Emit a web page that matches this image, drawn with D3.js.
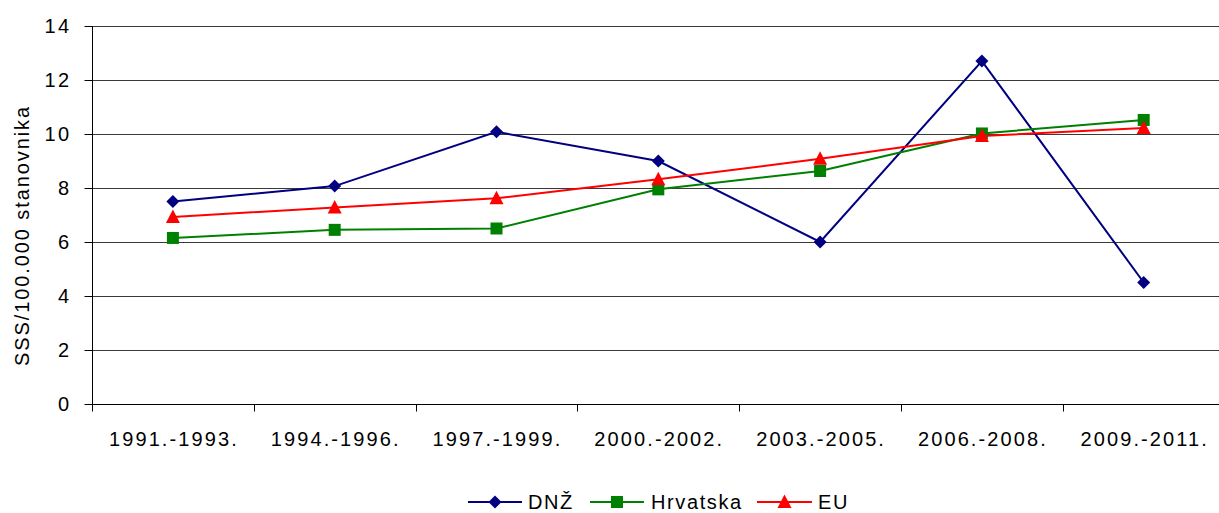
<!DOCTYPE html>
<html>
<head>
<meta charset="utf-8" />
<script src="https://cdnjs.cloudflare.com/ajax/libs/d3/7.8.5/d3.min.js"></script>
<style>
  body { margin: 0; background: #fff; }
  text { font-family: "Liberation Sans", Arial, sans-serif; fill: #000; }
</style>
</head>
<body>
<script>
var categories = ["1991.-1993.", "1994.-1996.", "1997.-1999.", "2000.-2002.", "2003.-2005.", "2006.-2008.", "2009.-2011."];
var dnz = [7.5, 8.07, 10.08, 9.0, 6.0, 12.7, 4.5];
var hrvatska = [6.15, 6.45, 6.5, 7.95, 8.63, 10.02, 10.52];
var eu = [6.93, 7.28, 7.62, 8.32, 9.08, 9.93, 10.22];
var yTicks = [0, 2, 4, 6, 8, 10, 12, 14];

var series = [
  {name: "DNŽ", values: dnz, color: "#000080", marker: "diamond"},
  {name: "Hrvatska", values: hrvatska, color: "#008000", marker: "square"},
  {name: "EU", values: eu, color: "#ff0000", marker: "triangle"}
];

var svgWidth = 1219, svgHeight = 513;
var margin = {left: 92, top: 26};
var plotBottom = 404;
var bandW = 161.8;
var fontSize = "20px";

var svg = d3.select("body").append("svg")
    .attr("width", svgWidth)
    .attr("height", svgHeight);

var x = d3.scaleBand()
    .domain(categories)
    .range([margin.left, margin.left + bandW * categories.length]);

var y = d3.scaleLinear()
    .domain([0, 14])
    .range([plotBottom, margin.top]);

// grid lines
svg.append("g")
    .selectAll("line")
    .data(yTicks.filter(function(d) { return d > 0; }))
    .enter().append("line")
    .attr("x1", margin.left)
    .attr("x2", svgWidth)
    .attr("y1", function(d) { return Math.round(y(d)) + 0.5; })
    .attr("y2", function(d) { return Math.round(y(d)) + 0.5; })
    .attr("stroke", "#3a3a3a")
    .attr("stroke-width", 1);

// y axis
var yAxis = svg.append("g")
    .attr("transform", "translate(" + (margin.left + 0.5) + ",0)")
    .call(d3.axisLeft(y).tickValues(yTicks).tickSize(8).tickPadding(13));
yAxis.select(".domain").remove();
yAxis.append("line")
    .attr("x1", 0).attr("x2", 0)
    .attr("y1", margin.top).attr("y2", plotBottom + 6)
    .attr("stroke", "#000");
yAxis.selectAll(".tick line").attr("stroke", "#000");
yAxis.selectAll("text")
    .style("font-size", fontSize)
    .style("letter-spacing", "2.4px")
    .attr("fill", "#000");

// x axis
var xAxis = svg.append("g")
    .attr("transform", "translate(0," + (Math.round(plotBottom) + 0.5) + ")");
xAxis.append("line")
    .attr("x1", margin.left).attr("x2", svgWidth)
    .attr("stroke", "#000");
xAxis.selectAll(".xtick")
    .data(categories)
    .enter().append("line")
    .attr("class", "xtick")
    .attr("x1", function(d) { return Math.round(x(d)) + 0.5; })
    .attr("x2", function(d) { return Math.round(x(d)) + 0.5; })
    .attr("y1", 0).attr("y2", 7)
    .attr("stroke", "#000");
xAxis.selectAll(".xlabel")
    .data(categories)
    .enter().append("text")
    .attr("class", "xlabel")
    .attr("x", function(d) { return x(d) + x.bandwidth() / 2 + 1; })
    .attr("y", 41)
    .attr("text-anchor", "middle")
    .style("font-size", fontSize)
    .style("letter-spacing", "2.1px")
    .text(function(d) { return d; });

// y title
svg.append("text")
    .attr("transform", "translate(29," + ((103 + 368) / 2) + ") rotate(-90)")
    .attr("text-anchor", "middle")
    .style("font-size", fontSize)
    .style("letter-spacing", "1.9px")
    .text("SSS/100.000 stanovnika");

function markerPath(type) {
  if (type === "diamond") return "M0,-6.5L6.5,0L0,6.5L-6.5,0Z";
  if (type === "square") return "M-6,-6L6,-6L6,6L-6,6Z";
  return "M0,-7.5L7,6L-7,6Z";
}

var line = d3.line()
    .x(function(d, i) { return x(categories[i]) + x.bandwidth() / 2; })
    .y(function(d) { return y(d); });

series.forEach(function(s) {
  var g = svg.append("g");
  g.append("path")
      .datum(s.values)
      .attr("d", line)
      .attr("fill", "none")
      .attr("stroke", s.color)
      .attr("stroke-width", 2);
  g.selectAll("path.m")
      .data(s.values)
      .enter().append("path")
      .attr("class", "m")
      .attr("d", markerPath(s.marker))
      .attr("transform", function(d, i) {
        return "translate(" + (x(categories[i]) + x.bandwidth() / 2) + "," + y(d) + ")";
      })
      .attr("fill", s.color);
});

// legend
var legendItems = [
  {x1: 468, x2: 522, tx: 528},
  {x1: 590, x2: 644, tx: 651},
  {x1: 757, x2: 812, tx: 818}
];
var legendY = 502;
series.forEach(function(s, i) {
  var li = legendItems[i];
  var g = svg.append("g");
  g.append("line")
      .attr("x1", li.x1).attr("x2", li.x2)
      .attr("y1", legendY).attr("y2", legendY)
      .attr("stroke", s.color)
      .attr("stroke-width", 2);
  g.append("path")
      .attr("d", markerPath(s.marker))
      .attr("transform", "translate(" + ((li.x1 + li.x2) / 2) + "," + legendY + ")")
      .attr("fill", s.color);
  g.append("text")
      .attr("x", li.tx)
      .attr("y", legendY + 7)
      .style("font-size", fontSize)
      .style("letter-spacing", "1.6px")
      .text(s.name);
});
</script>
</body>
</html>
